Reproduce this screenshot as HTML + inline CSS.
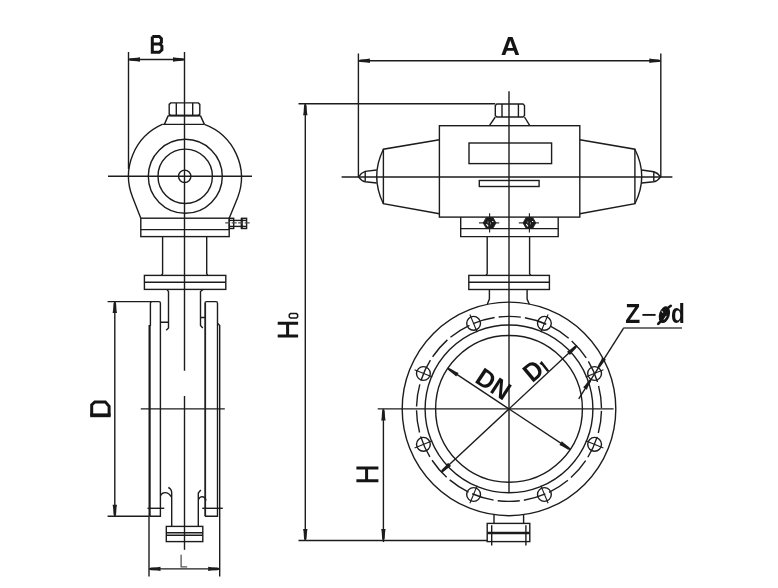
<!DOCTYPE html>
<html><head><meta charset="utf-8"><title>valve</title>
<style>
html,body{margin:0;padding:0;background:#fff;}
body{width:778px;height:588px;overflow:hidden;font-family:"Liberation Sans",sans-serif;}
svg{display:block}
svg text{fill:#141414;stroke:none;font-family:"Liberation Sans",sans-serif;font-weight:bold}
</style></head><body>
<svg width="778" height="588" viewBox="0 0 778 588">
<g fill="none" stroke="#1c1c1c" stroke-width="1.4">
<line x1="128.5" y1="52" x2="128.5" y2="169"/>
<line x1="184.5" y1="52" x2="184.5" y2="370.7"/>
<line x1="184.5" y1="396" x2="184.5" y2="549.8"/>
<line x1="128.5" y1="59.5" x2="184.5" y2="59.5"/>
<polygon fill="#1c1c1c" stroke="none" points="128.5,59.9 130.5,60.8 137.0,61.2 140.0,61.7 140.0,57.3 137.0,57.8 130.5,58.2 128.5,59.1"/>
<polygon fill="#1c1c1c" stroke="none" points="184.5,59.1 182.5,58.2 176.0,57.8 173.0,57.3 173.0,61.7 176.0,61.2 182.5,60.8 184.5,59.9"/>
<line x1="108" y1="176.3" x2="252" y2="176.3"/>
<path d="M170.7,102.9 H198.3 L199.8,104.4 V114 L198.3,115.5 H170.7 L169.2,114 V104.4 Z"/>
<line x1="176.3" y1="103" x2="176.3" y2="115.5"/>
<line x1="192.7" y1="103" x2="192.7" y2="115.5"/>
<line x1="168.2" y1="115.6" x2="200.4" y2="115.6" stroke-width="1.6"/>
<path d="M168.2,115.6 L164.4,124.4 M200.4,115.6 L204.4,124.4 M162.2,124.4 H204.4"/>
<path d="M140.8,218.2 L132.5,196.9 A56.6,56.6 0 0 1 162.2,124.4"/>
<path d="M229.2,218.2 L237.6,197.8 A56.6,56.6 0 0 0 204.4,124.4"/>
<circle cx="185.3" cy="176.3" r="37"/>
<circle cx="185.2" cy="176.3" r="27.2"/>
<circle cx="184.7" cy="176.3" r="6.2"/>
<rect x="140.8" y="218.2" width="88.4" height="18.4"/>
<line x1="140.8" y1="229.6" x2="229.2" y2="229.6"/>
<rect x="229.3" y="218.3" width="4.4" height="10.2"/>
<rect x="241.5" y="218.3" width="5.1" height="10.2"/>
<line x1="241.8" y1="218.3" x2="241.8" y2="228.5" stroke-width="2"/>
<line x1="229.3" y1="220.4" x2="246.6" y2="220.4"/>
<line x1="229.3" y1="226.4" x2="246.6" y2="226.4"/>
<line x1="225.2" y1="222.9" x2="250" y2="222.9" stroke-width="1.3" stroke="#4a4a4a" stroke-dasharray="5 1.5"/>
<path d="M162.6,236.6 V273.5 L161.6,275.4 M206.7,236.6 V273.5 L207.7,275.4"/>
<rect x="144.4" y="275.4" width="81.4" height="14.0"/>
<line x1="144.4" y1="282.3" x2="225.8" y2="282.3"/>
<path d="M166.8,289.4 L168.5,291.5 V328 L166.2,330.2 M160.4,322.2 H168.5"/>
<path d="M203,289.4 L200.5,291.5 V325.5 L202.8,328 M200.5,317.5 H205"/>
<path d="M107.6,301.6 H159 Q160.4,301.6 160.4,303.2 V516.3 H149.5"/>
<path d="M150.4,326 V303.2 Q150.4,301.6 152,301.6"/>
<line x1="149.6" y1="325" x2="149.6" y2="516.3" stroke-width="2.2"/>
<path d="M205,516.3 V303.2 Q205,301.6 206.5,301.6 H216 Q217.5,301.6 217.5,303.2 V516.3 H205"/>
<line x1="205.6" y1="303" x2="205.6" y2="516.3" stroke-width="1"/>
<path d="M217.5,323.3 L219.7,325.5 V576.4"/>
<line x1="149" y1="516.3" x2="149" y2="576.4"/>
<line x1="140.8" y1="408.9" x2="224.8" y2="408.9"/>
<line x1="147.5" y1="508.3" x2="164.3" y2="508.3"/>
<line x1="202.3" y1="508.3" x2="222.8" y2="508.3"/>
<line x1="107.6" y1="516.3" x2="149" y2="516.3"/>
<line x1="114.8" y1="301.6" x2="114.8" y2="516.3"/>
<polygon fill="#1c1c1c" stroke="none" points="114.4,301.6 113.5,303.6 113.1,310.1 112.6,313.1 117.0,313.1 116.5,310.1 116.1,303.6 115.2,301.6"/>
<polygon fill="#1c1c1c" stroke="none" points="115.2,516.3 116.1,514.3 116.5,507.8 117.0,504.8 112.6,504.8 113.1,507.8 113.5,514.3 114.4,516.3"/>
<path d="M160.4,495.6 Q162,492.6 165,492.6 Q169,492.6 171.6,497.2 M168.3,487.5 Q171.7,489 171.7,493 V526.4"/>
<path d="M198.3,526.4 V493 L200.8,490 M198.3,499.8 Q199.5,496.6 202.2,496.6 Q205,496.8 206.2,500.4"/>
<rect x="166.3" y="526.4" width="36.5" height="15.2"/>
<line x1="166.3" y1="532.7" x2="202.8" y2="532.7"/>
<line x1="166.3" y1="535.2" x2="202.8" y2="535.2"/>
<line x1="149" y1="568.9" x2="219.7" y2="568.9"/>
<polygon fill="#1c1c1c" stroke="none" points="149.0,569.3 151.0,570.2 157.5,570.6 160.5,571.1 160.5,566.7 157.5,567.2 151.0,567.6 149.0,568.5"/>
<polygon fill="#1c1c1c" stroke="none" points="219.7,568.5 217.7,567.6 211.2,567.2 208.2,566.7 208.2,571.1 211.2,570.6 217.7,570.2 219.7,569.3"/>
<path d="M181.1,554.8 V566.8 H187.2" stroke-width="1.3" stroke="#555"/>
<line x1="358.4" y1="53.5" x2="358.4" y2="177"/>
<line x1="660.8" y1="53.5" x2="660.8" y2="177"/>
<line x1="358.4" y1="60.8" x2="660.8" y2="60.8"/>
<polygon fill="#1c1c1c" stroke="none" points="358.4,61.2 360.4,62.1 366.9,62.5 369.9,63.0 369.9,58.6 366.9,59.1 360.4,59.5 358.4,60.4"/>
<polygon fill="#1c1c1c" stroke="none" points="660.8,60.4 658.8,59.5 652.3,59.1 649.3,58.6 649.3,63.0 652.3,62.5 658.8,62.1 660.8,61.2"/>
<line x1="298.5" y1="103.8" x2="495.3" y2="103.8"/>
<line x1="298.5" y1="540.5" x2="487.2" y2="540.5"/>
<line x1="305.3" y1="103.8" x2="305.3" y2="540.5"/>
<polygon fill="#1c1c1c" stroke="none" points="304.9,103.8 304.0,105.8 303.6,112.3 303.1,115.3 307.5,115.3 307.0,112.3 306.6,105.8 305.7,103.8"/>
<polygon fill="#1c1c1c" stroke="none" points="305.7,540.5 306.6,538.5 307.0,532.0 307.5,529.0 303.1,529.0 303.6,532.0 304.0,538.5 304.9,540.5"/>
<line x1="377.7" y1="408.9" x2="613.6" y2="408.9"/>
<line x1="383.4" y1="408.9" x2="383.4" y2="542"/>
<polygon fill="#1c1c1c" stroke="none" points="383.0,408.9 382.1,410.9 381.7,417.4 381.2,420.4 385.6,420.4 385.1,417.4 384.7,410.9 383.8,408.9"/>
<polygon fill="#1c1c1c" stroke="none" points="383.8,540.5 384.7,538.5 385.1,532.0 385.6,529.0 381.2,529.0 381.7,532.0 382.1,538.5 383.0,540.5"/>
<line x1="509.0" y1="91.3" x2="509.0" y2="492.6"/>
<line x1="341.6" y1="177" x2="672.4" y2="177"/>
<path d="M496.8,104 H523 L524.5,105.5 V115.5 L523,117 H496.8 L495.3,115.5 V105.5 Z"/>
<line x1="502" y1="104" x2="502" y2="117"/>
<line x1="518.4" y1="104" x2="518.4" y2="117"/>
<path d="M495.3,117 L489.4,125.6 M524.5,117 L529.8,125.6"/>
<rect x="439.4" y="125.7" width="140.4" height="91.4"/>
<rect x="469.0" y="143.0" width="82.6" height="20.6"/>
<rect x="479.3" y="180.5" width="59.8" height="6.0"/>
<path d="M439.4,139.8 L383.4,149.2 V203.7 L439.4,213.8"/>
<path d="M383.4,149.2 Q370,176.5 383.4,203.7"/>
<path d="M376.7,170 L365.2,171.4 Q361.5,172.6 358.6,176.8 Q361.5,181 365.2,181.8 L376.7,183"/>
<line x1="365.2" y1="171.6" x2="365.2" y2="181.6"/>
<path d="M579.8,139.8 L634.9,149.2 V203.7 L579.8,213.8"/>
<path d="M634.9,149.2 Q648.6,176.5 634.9,203.7"/>
<path d="M641.7,170 L653.8,171.8 Q657.6,172.8 660.6,176.8 Q657.6,181 653.8,181.8 L641.7,183"/>
<line x1="653.8" y1="171.6" x2="653.8" y2="181.6"/>
<path d="M460.7,217 V236.6 H558.2 V217"/>
<line x1="460.7" y1="228.6" x2="558.2" y2="228.6"/>
<polygon fill="#1c1c1c" stroke="#1c1c1c" stroke-width="0.8" points="483.2,222.9 486.2,217.6 493.0,217.6 496.0,222.9 493.0,228.2 486.2,228.2"/>
<path d="M488.0,221.70000000000002 v1.6 M490.40000000000003,222.0 v2.2 M486.40000000000003,224.1 l1.8,2.2 M492.20000000000005,221.5 h1.2" stroke="#fff" stroke-width="1.15"/>
<line x1="479.0" y1="222.9" x2="499.20000000000005" y2="222.9" stroke-width="1.1"/>
<line x1="489.6" y1="213.2" x2="489.6" y2="232.5" stroke-width="1.1"/>
<polygon fill="#1c1c1c" stroke="#1c1c1c" stroke-width="0.8" points="523.0,222.9 526.0,217.6 532.8,217.6 535.8,222.9 532.8,228.2 526.0,228.2"/>
<path d="M527.8,221.70000000000002 v1.6 M530.1999999999999,222.0 v2.2 M526.1999999999999,224.1 l1.8,2.2 M532.0,221.5 h1.2" stroke="#fff" stroke-width="1.15"/>
<line x1="518.8" y1="222.9" x2="539.0" y2="222.9" stroke-width="1.1"/>
<line x1="529.4" y1="213.2" x2="529.4" y2="232.5" stroke-width="1.1"/>
<path d="M487.2,236.5 V273.8 L486,275.4 M529.6,236.5 V273.8 L530.8,275.4"/>
<rect x="468.8" y="275.4" width="80.6" height="14.1"/>
<line x1="468.8" y1="282.3" x2="549.4" y2="282.3"/>
<path d="M489.4,289.5 V299 L487.2,304.6 M527.1,289.5 V299 L529.4,304.6"/>
<circle cx="509.0" cy="408.9" r="106.8"/>
<circle cx="509.0" cy="408.9" r="83.9"/>
<circle cx="509.0" cy="408.9" r="73.4"/>
<circle cx="509.0" cy="408.9" r="92.5" stroke-dasharray="22.4 4.02" stroke-dashoffset="24.4"/>
<circle cx="594.6" cy="373.5" r="6.9"/>
<line x1="585.7" y1="377.1" x2="603.4" y2="369.8" stroke-width="1.1"/>
<circle cx="544.4" cy="323.3" r="6.9"/>
<line x1="540.8" y1="332.2" x2="548.1" y2="314.5" stroke-width="1.1"/>
<circle cx="473.6" cy="323.3" r="6.9"/>
<line x1="477.2" y1="332.2" x2="469.9" y2="314.5" stroke-width="1.1"/>
<circle cx="423.4" cy="373.5" r="6.9"/>
<line x1="432.3" y1="377.1" x2="414.6" y2="369.8" stroke-width="1.1"/>
<circle cx="423.4" cy="444.3" r="6.9"/>
<line x1="432.3" y1="440.7" x2="414.6" y2="448.0" stroke-width="1.1"/>
<circle cx="473.6" cy="494.5" r="6.9"/>
<line x1="477.2" y1="485.6" x2="469.9" y2="503.3" stroke-width="1.1"/>
<circle cx="544.4" cy="494.5" r="6.9"/>
<line x1="540.8" y1="485.6" x2="548.1" y2="503.3" stroke-width="1.1"/>
<circle cx="594.6" cy="444.3" r="6.9"/>
<line x1="585.7" y1="440.7" x2="603.4" y2="448.0" stroke-width="1.1"/>
<line x1="447.8" y1="368.4" x2="570.2" y2="449.4"/>
<polygon fill="#1c1c1c" stroke="none" points="447.57,368.72 448.74,370.58 453.94,374.5 456.17,376.57 458.6,372.9 455.82,371.66 450.18,368.41 448.01,368.05"/>
<polygon fill="#1c1c1c" stroke="none" points="570.43,449.08 569.26,447.22 564.06,443.3 561.83,441.23 559.4,444.9 562.18,446.14 567.82,449.39 569.99,449.75"/>
<line x1="441.1" y1="472.2" x2="576.9" y2="345.6"/>
<polygon fill="#1c1c1c" stroke="none" points="441.4,472.48 443.48,471.78 448.51,467.64 451.04,465.96 448.04,462.74 446.19,465.15 441.71,469.87 440.86,471.9"/>
<polygon fill="#1c1c1c" stroke="none" points="576.6,345.32 574.52,346.02 569.49,350.16 566.96,351.84 569.96,355.06 571.81,352.65 576.29,347.93 577.14,345.9"/>
<path d="M578.7,398.8 L623.6,328.2"/>
<line x1="623.3" y1="328" x2="682" y2="328" stroke-width="1.7" stroke="#444"/>
<polygon fill="#1c1c1c" stroke="none" points="598.53,367.94 600.36,366.73 604.18,361.45 606.03,359.66 602.14,357.2 601.31,359.63 598.17,365.34 597.86,367.51"/>
<polygon fill="#1c1c1c" stroke="none" points="590.57,378.99 588.74,380.2 584.92,385.47 583.08,387.26 586.96,389.73 587.79,387.29 590.94,381.59 591.25,379.42"/>
<path d="M494,514.6 V523.4 M523.6,514.6 V523.4"/>
<rect x="487.2" y="523.4" width="42.6" height="18.2"/>
<line x1="487.2" y1="533" x2="529.8" y2="533" stroke-width="2.6"/>
<line x1="491.7" y1="525.3" x2="491.7" y2="545.5"/>
<line x1="525.9" y1="525.3" x2="525.9" y2="545.5"/>
</g>
<g fill="none" stroke="#141414" opacity="0.999">
<text transform="translate(500.7,54.9)" font-size="26.5">A</text>
<path d="M152.3,36.5 V52.3 H159.3 L161.9,49.8 V46 L159.8,43.9 H152.3 M159.8,43.9 L161.4,42.3 V38.6 L159.3,36.5 H152.3" stroke-width="3"/>
<path d="M91.7,415.7 V404.8 L94.8,401.9 H105.3 L109.1,406.4 V415.7" stroke-width="3"/>
<path d="M90.2,415.3 H110.6" stroke-width="3.8"/>
<path d="M277.7,323.3 H298.1 M277.7,336 H298.1 M287.6,323.3 V336" stroke-width="3"/>
<path d="M290.5,313.6 H296.4 L297.6,314.6 V317 L296.4,318.1 H290.5 L289.3,317 V314.6 Z" stroke-width="1.5"/>
<path d="M356.4,468 H378.4 M356.4,480.8 H378.4 M366.6,468 V480.8" stroke-width="3"/>
<text transform="translate(473.8,381.4) rotate(33.5) scale(0.97,1)" font-size="25.4">DN</text>
<text transform="translate(532.3,383.3) rotate(-40) scale(0.93,1)" font-size="26">D</text>
<path d="M540.4,364.2 L541.6,362.9 L548.2,371.2" stroke-width="2.4"/>
<text transform="translate(625.3,322.7) scale(0.91,1)" font-size="27">Z</text>
<path d="M642.4,314.9 H655.6" stroke-width="1.9"/>
<text transform="translate(671.0,323.2) scale(0.84,1)" font-size="27">d</text>
<g transform="translate(664.4,314.7) rotate(18)"><ellipse cx="0" cy="0" rx="5.3" ry="8.6" fill="#141414" stroke="none"/></g>
<path d="M658.2,323.9 L660.5,321.5 M668.5,307.6 L670.8,305.8" stroke-width="2.6" stroke-linecap="round"/>
<path d="M662,311.2 L662.6,312.4 M664.2,319.2 L666.2,316.2" stroke="#fff" stroke-width="1" stroke-linecap="round"/>
</g>
</svg>
</body></html>
